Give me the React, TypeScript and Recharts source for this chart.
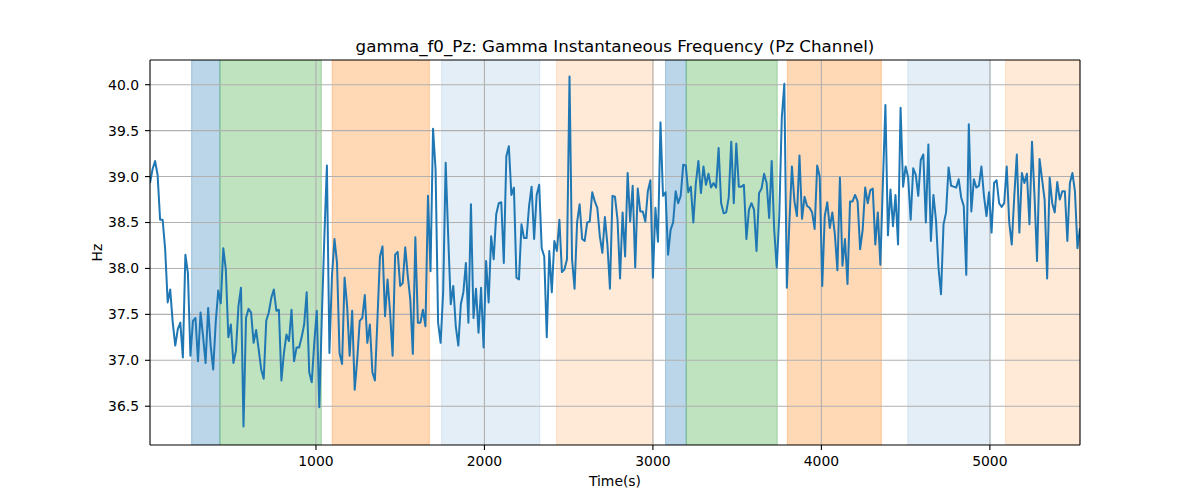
import React from "react";
import { ComposedChart, Line, XAxis, YAxis, ReferenceArea, ReferenceLine } from "recharts";

// Gamma instantaneous frequency (Hz), read left to right in six stretches
const hzSeg1 = [
  38.93, 39.08, 39.17, 39.02, 38.53, 38.53, 38.21, 37.63, 37.77, 37.41, 37.16, 37.34, 37.41, 37.03, 38.15, 37.95,
  37.05, 37.43, 37.46, 36.99, 37.52, 37.26, 36.97, 37.57, 37.16, 36.9, 37.41, 37.76, 37.62, 38.22, 37.99, 37.25,
  37.39, 36.97, 37.1, 37.59, 37.79, 36.28, 37.46, 37.56, 37.52, 37.19, 37.33, 37.12, 36.9, 36.8, 37.43, 37.52,
  37.68, 37.77, 37.54, 37.55, 36.78, 37.08, 37.28, 37.21, 37.55, 36.99, 37.14, 37.14, 37.25, 37.39,
];
const hzSeg2 = [
  37.74, 36.87, 36.76, 37.19, 37.54, 36.49, 37.48, 38.35, 39.12, 37.08, 37.92, 38.32, 38.06, 37.08, 36.96, 37.9,
  37.59, 37.05, 37.54, 36.68, 37.01, 37.43, 37.46, 37.71, 37.19, 37.39, 36.87, 36.78, 37.45, 38.13, 38.24, 37.48,
  37.88, 37.52, 37.05, 38.15, 38.18, 37.81, 37.84, 38.23, 37.92, 37.66, 37.07, 38.34, 37.41, 37.41, 37.55, 37.37,
  38.79, 37.97, 39.52, 39.08, 37.41, 37.19, 37.74, 39.15, 38.35, 37.61, 37.81, 37.37, 37.16,
];
const hzSeg3 = [
  37.61, 37.74, 38.06, 37.41, 38.7, 37.46, 37.78, 37.3, 37.79, 37.14, 38.08, 37.63, 38.35, 38.1, 38.59, 38.71,
  38.72, 38.06, 39.22, 39.33, 38.8, 38.88, 37.9, 37.88, 38.48, 38.33, 38.33, 38.68, 38.89, 38.32, 38.8, 38.91,
  38.22, 38.13, 37.25, 38.19, 37.74, 38.3, 38.19, 38.53, 37.96, 37.99, 38.1, 40.09, 38.1, 37.78, 38.5, 38.7,
  38.32, 38.3, 38.5, 38.51, 38.83, 38.73, 38.66, 38.35, 38.17, 38.56, 38.26, 37.78, 38.79,
];
const hzSeg4 = [
  38.78, 38.53, 37.89, 38.61, 38.13, 39.04, 38.51, 38.9, 38.01, 38.87, 38.62, 38.62, 38.51, 38.84, 38.96, 37.9,
  38.66, 38.29, 39.59, 38.79, 38.83, 38.15, 38.42, 38.5, 38.84, 38.71, 38.79, 39.13, 39.12, 38.83, 38.89, 38.5,
  38.93, 39.17, 38.82, 39.11, 38.91, 39.03, 38.88, 38.93, 38.88, 39.31, 38.71, 38.6, 38.61, 38.77, 39.38, 38.71,
  39.36, 38.89, 38.89, 38.91, 38.32, 38.64, 38.71, 38.64, 38.19, 38.82, 38.87, 39.03, 38.93,
];
const hzSeg5 = [
  38.55, 39.17, 38.42, 38.01, 38.57, 39.64, 40.01, 37.79, 38.5, 39.11, 38.73, 38.57, 39.23, 38.54, 38.78, 38.68,
  38.66, 38.61, 38.43, 39.12, 39.0, 37.81, 38.57, 38.72, 38.44, 38.61, 38.37, 37.98, 38.99, 38.03, 38.32, 37.83,
  38.73, 38.73, 38.8, 38.73, 38.21, 38.42, 38.88, 38.71, 38.85, 38.87, 38.26, 38.61, 38.04, 38.93, 39.78, 38.36,
  38.86, 38.46, 38.8, 38.26, 39.75, 38.89, 39.11, 38.99, 38.53, 39.09, 39.02, 38.79, 39.18, 39.24,
];
const hzSeg6 = [
  38.5, 39.35, 38.3, 38.8, 38.53, 38.01, 37.72, 38.48, 38.61, 39.1, 38.9, 38.89, 38.88, 38.97, 38.77, 38.68,
  37.93, 39.57, 38.62, 38.97, 38.88, 38.9, 39.11, 38.79, 38.57, 38.83, 38.39, 38.93, 38.96, 38.71, 38.67, 38.71,
  39.11, 38.5, 38.26, 38.79, 39.24, 38.39, 39.04, 38.93, 39.03, 38.48, 39.38, 38.79, 38.08, 39.19, 38.97, 38.75,
  37.89, 38.99, 38.71, 38.61, 38.94, 38.75, 38.84, 38.84, 38.3, 38.93, 39.04, 38.84, 38.22, 38.44,
];

const T_START = 15;
const T_STEP = 15;

const xTicks = [1000, 2000, 3000, 4000, 5000];
const yTicks = [36.5, 37.0, 37.5, 38.0, 38.5, 39.0, 39.5, 40.0];
const xDomain: [number, number] = [15, 5535];
const yDomain: [number, number] = [36.078, 40.269];

// Shaded intervals
const bandStart = [262, 430, 1097, 1746, 2428, 3075, 3198, 3798, 4513, 5093];
const bandEnd = [430, 1032, 1673, 2328, 3002, 3198, 3738, 4356, 5004, 5535];
const bandKind = ["blue", "green", "orange", "paleBlue", "paleOrange", "blue", "green", "orange", "paleBlue", "paleOrange"];

const bandStyle: Record<string, { color: string; alpha: number }> = {
  blue: { color: "#1f77b4", alpha: 0.3 },
  green: { color: "#2ca02c", alpha: 0.3 },
  orange: { color: "#ff7f0e", alpha: 0.3 },
  paleBlue: { color: "#1f77b4", alpha: 0.12 },
  paleOrange: { color: "#ff7f0e", alpha: 0.16 },
};

const hzValues = [...hzSeg1, ...hzSeg2, ...hzSeg3, ...hzSeg4, ...hzSeg5, ...hzSeg6];
const data = hzValues.map((v, i) => ({ t: T_START + i * T_STEP, hz: v }));

const FONT = "DejaVu Sans";
const tickStyle = { fill: "#000", fontSize: 13.9, fontFamily: FONT };

export default function App() {
  return (
    <div style={{ position: "absolute", left: 0, top: 0, width: 1200, height: 500, background: "#fff" }}>
      <ComposedChart width={1200} height={500} data={data} margin={{ top: 60, right: 120, bottom: 0, left: 0 }}>
        <XAxis
          dataKey="t"
          type="number"
          domain={xDomain}
          ticks={xTicks}
          allowDataOverflow
          height={55}
          tickSize={5}
          tickMargin={6}
          tick={tickStyle}
          tickLine={{ stroke: "#000", strokeWidth: 1.1 }}
          axisLine={{ stroke: "#000", strokeWidth: 1.1 }}
        />
        <YAxis
          type="number"
          domain={yDomain}
          ticks={yTicks}
          allowDataOverflow
          width={150}
          tickSize={5}
          tickMargin={6}
          tick={tickStyle}
          tickFormatter={(v: number) => v.toFixed(1)}
          tickLine={{ stroke: "#000", strokeWidth: 1.1 }}
          axisLine={{ stroke: "#000", strokeWidth: 1.1 }}
        />
        {bandStart.map((s, i) => {
          const st = bandStyle[bandKind[i]];
          return (
            <ReferenceArea
              key={"band" + i}
              x1={s}
              x2={bandEnd[i]}
              ifOverflow="hidden"
              fill={st.color}
              fillOpacity={st.alpha}
              stroke={st.color}
              strokeOpacity={st.alpha}
              strokeWidth={1.1}
            />
          );
        })}
        {yTicks.map((v) => (
          <ReferenceLine key={"gy" + v} y={v} stroke="#b0b0b0" strokeWidth={1.1} />
        ))}
        {xTicks.map((v) => (
          <ReferenceLine key={"gx" + v} x={v} stroke="#b0b0b0" strokeWidth={1.1} />
        ))}
        <Line
          dataKey="hz"
          type="linear"
          stroke="#1f77b4"
          strokeWidth={2}
          strokeLinejoin="round"
          dot={false}
          activeDot={false}
          isAnimationActive={false}
        />
        <ReferenceLine y={yDomain[1]} ifOverflow="visible" stroke="#000" strokeWidth={1.1} />
        <ReferenceLine x={xDomain[1]} ifOverflow="visible" stroke="#000" strokeWidth={1.1} />
      </ComposedChart>
      <svg
        width={1200}
        height={500}
        style={{ position: "absolute", left: 0, top: 0, pointerEvents: "none" }}
      >
        <text x={615} y={52} textAnchor="middle" fontFamily={FONT} fontSize={16.7} fill="#000">
          gamma_f0_Pz: Gamma Instantaneous Frequency (Pz Channel)
        </text>
        <text x={615} y={486} textAnchor="middle" fontFamily={FONT} fontSize={13.9} fill="#000">
          Time(s)
        </text>
        <text
          x={102}
          y={252.6}
          textAnchor="middle"
          fontFamily={FONT}
          fontSize={13.9}
          fill="#000"
          transform="rotate(-90 102 252.6)"
        >
          Hz
        </text>
      </svg>
    </div>
  );
}
